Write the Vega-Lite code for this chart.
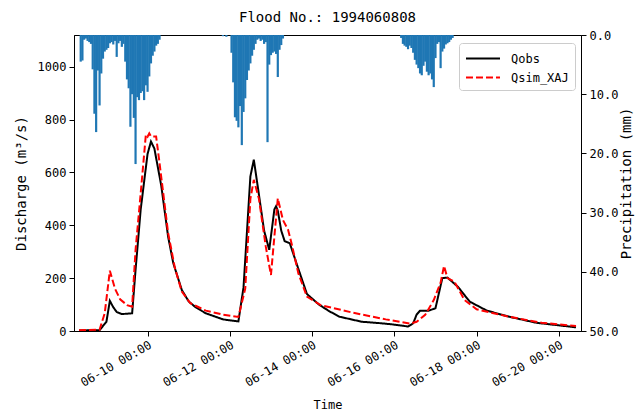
{
  "$schema": "https://vega.github.io/schema/vega-lite/v6.json",
  "autosize": {"type": "none"},
  "padding": {"left": 74, "top": 35, "right": 59, "bottom": 81},
  "width": 507,
  "height": 296,
  "background": "white",
  "title": {"text": "Flood No.: 1994060808", "font": "DejaVu Sans Mono", "fontSize": 14, "fontWeight": "normal", "color": "black", "offset": 4},
  "config": {
    "view": {"stroke": "black", "strokeWidth": 1},
    "axis": {"labelFont": "DejaVu Sans Mono", "labelFontSize": 12, "titleFont": "DejaVu Sans Mono", "titleFontSize": 12, "titleFontWeight": "normal", "labelColor": "black", "titleColor": "black", "domainColor": "black", "tickColor": "black", "grid": false, "tickSize": 5, "labelPadding": 3}
  },
  "datasets": {
    "rain": [
      {"t": "1994-06-08T09:00", "p": 4.5}, {"t": "1994-06-08T10:00", "p": 4.3}, {"t": "1994-06-08T11:00", "p": 0.8}, {"t": "1994-06-08T12:00", "p": 0.6},
      {"t": "1994-06-08T13:00", "p": 1.0}, {"t": "1994-06-08T14:00", "p": 1.2}, {"t": "1994-06-08T15:00", "p": 1.5}, {"t": "1994-06-08T16:00", "p": 5.8},
      {"t": "1994-06-08T17:00", "p": 13.3}, {"t": "1994-06-08T18:00", "p": 16.4}, {"t": "1994-06-08T19:00", "p": 6.0}, {"t": "1994-06-08T20:00", "p": 11.9},
      {"t": "1994-06-08T21:00", "p": 6.5}, {"t": "1994-06-08T22:00", "p": 4.0}, {"t": "1994-06-08T23:00", "p": 2.8}, {"t": "1994-06-09T00:00", "p": 2.5},
      {"t": "1994-06-09T01:00", "p": 2.2}, {"t": "1994-06-09T02:00", "p": 1.4}, {"t": "1994-06-09T03:00", "p": 1.2}, {"t": "1994-06-09T04:00", "p": 1.6},
      {"t": "1994-06-09T05:00", "p": 1.0}, {"t": "1994-06-09T06:00", "p": 3.7}, {"t": "1994-06-09T07:00", "p": 1.4}, {"t": "1994-06-09T08:00", "p": 1.0},
      {"t": "1994-06-09T09:00", "p": 2.0}, {"t": "1994-06-09T10:00", "p": 1.5}, {"t": "1994-06-09T11:00", "p": 4.5}, {"t": "1994-06-09T12:00", "p": 7.5},
      {"t": "1994-06-09T13:00", "p": 9.0}, {"t": "1994-06-09T14:00", "p": 15.5}, {"t": "1994-06-09T15:00", "p": 10.0}, {"t": "1994-06-09T16:00", "p": 14.0},
      {"t": "1994-06-09T17:00", "p": 21.8}, {"t": "1994-06-09T18:00", "p": 10.5}, {"t": "1994-06-09T19:00", "p": 11.0}, {"t": "1994-06-09T20:00", "p": 9.8},
      {"t": "1994-06-09T21:00", "p": 9.5}, {"t": "1994-06-09T22:00", "p": 11.0}, {"t": "1994-06-09T23:00", "p": 8.5}, {"t": "1994-06-10T00:00", "p": 9.6},
      {"t": "1994-06-10T01:00", "p": 7.0}, {"t": "1994-06-10T02:00", "p": 4.8}, {"t": "1994-06-10T03:00", "p": 3.5}, {"t": "1994-06-10T04:00", "p": 2.8},
      {"t": "1994-06-10T05:00", "p": 1.8}, {"t": "1994-06-10T06:00", "p": 1.5}, {"t": "1994-06-10T07:00", "p": 0.8},
      {"t": "1994-06-11T20:00", "p": 0.2}, {"t": "1994-06-11T22:00", "p": 0.3},
      {"t": "1994-06-12T01:00", "p": 3.0}, {"t": "1994-06-12T02:00", "p": 8.0}, {"t": "1994-06-12T03:00", "p": 13.9}, {"t": "1994-06-12T04:00", "p": 14.5},
      {"t": "1994-06-12T05:00", "p": 15.6}, {"t": "1994-06-12T06:00", "p": 12.0}, {"t": "1994-06-12T07:00", "p": 18.6}, {"t": "1994-06-12T08:00", "p": 13.0},
      {"t": "1994-06-12T09:00", "p": 10.7}, {"t": "1994-06-12T10:00", "p": 7.6}, {"t": "1994-06-12T11:00", "p": 6.0}, {"t": "1994-06-12T12:00", "p": 4.8},
      {"t": "1994-06-12T13:00", "p": 3.5}, {"t": "1994-06-12T14:00", "p": 2.5}, {"t": "1994-06-12T15:00", "p": 1.5}, {"t": "1994-06-12T16:00", "p": 0.8},
      {"t": "1994-06-12T17:00", "p": 0.6}, {"t": "1994-06-12T18:00", "p": 1.0}, {"t": "1994-06-12T19:00", "p": 0.8}, {"t": "1994-06-12T20:00", "p": 1.5},
      {"t": "1994-06-12T21:00", "p": 1.2}, {"t": "1994-06-12T22:00", "p": 18.1}, {"t": "1994-06-12T23:00", "p": 5.0}, {"t": "1994-06-13T00:00", "p": 3.4},
      {"t": "1994-06-13T01:00", "p": 3.0}, {"t": "1994-06-13T02:00", "p": 2.8}, {"t": "1994-06-13T03:00", "p": 3.2}, {"t": "1994-06-13T04:00", "p": 7.1},
      {"t": "1994-06-13T05:00", "p": 2.5}, {"t": "1994-06-13T06:00", "p": 1.7}, {"t": "1994-06-13T07:00", "p": 0.6},
      {"t": "1994-06-16T04:00", "p": 0.5}, {"t": "1994-06-16T05:00", "p": 1.5}, {"t": "1994-06-16T06:00", "p": 1.8}, {"t": "1994-06-16T07:00", "p": 2.0},
      {"t": "1994-06-16T08:00", "p": 2.4}, {"t": "1994-06-16T09:00", "p": 1.8}, {"t": "1994-06-16T10:00", "p": 2.2}, {"t": "1994-06-16T11:00", "p": 3.0},
      {"t": "1994-06-16T12:00", "p": 4.2}, {"t": "1994-06-16T13:00", "p": 5.0}, {"t": "1994-06-16T14:00", "p": 5.6}, {"t": "1994-06-16T15:00", "p": 6.5},
      {"t": "1994-06-16T16:00", "p": 6.8}, {"t": "1994-06-16T17:00", "p": 5.2}, {"t": "1994-06-16T18:00", "p": 4.5}, {"t": "1994-06-16T19:00", "p": 6.2},
      {"t": "1994-06-16T20:00", "p": 6.8}, {"t": "1994-06-16T21:00", "p": 6.5}, {"t": "1994-06-16T22:00", "p": 7.5}, {"t": "1994-06-16T23:00", "p": 8.8},
      {"t": "1994-06-17T00:00", "p": 3.9}, {"t": "1994-06-17T01:00", "p": 1.5}, {"t": "1994-06-17T02:00", "p": 1.2}, {"t": "1994-06-17T03:00", "p": 5.6},
      {"t": "1994-06-17T04:00", "p": 2.8}, {"t": "1994-06-17T05:00", "p": 2.3}, {"t": "1994-06-17T06:00", "p": 1.6}, {"t": "1994-06-17T07:00", "p": 1.4},
      {"t": "1994-06-17T08:00", "p": 1.2}, {"t": "1994-06-17T09:00", "p": 0.8}, {"t": "1994-06-17T10:00", "p": 0.5}
    ],
    "flow": [
      {"t": "1994-06-08T08:00", "s": "Qobs", "q": 2}, {"t": "1994-06-08T20:00", "s": "Qobs", "q": 3}, {"t": "1994-06-09T00:00", "s": "Qobs", "q": 35},
      {"t": "1994-06-09T02:00", "s": "Qobs", "q": 114}, {"t": "1994-06-09T04:00", "s": "Qobs", "q": 90}, {"t": "1994-06-09T06:00", "s": "Qobs", "q": 72},
      {"t": "1994-06-09T09:00", "s": "Qobs", "q": 64}, {"t": "1994-06-09T15:00", "s": "Qobs", "q": 67}, {"t": "1994-06-09T17:00", "s": "Qobs", "q": 231},
      {"t": "1994-06-09T20:00", "s": "Qobs", "q": 460}, {"t": "1994-06-10T00:00", "s": "Qobs", "q": 670}, {"t": "1994-06-10T02:00", "s": "Qobs", "q": 717},
      {"t": "1994-06-10T04:00", "s": "Qobs", "q": 690}, {"t": "1994-06-10T08:00", "s": "Qobs", "q": 550}, {"t": "1994-06-10T12:00", "s": "Qobs", "q": 357},
      {"t": "1994-06-10T15:00", "s": "Qobs", "q": 257}, {"t": "1994-06-10T20:00", "s": "Qobs", "q": 155}, {"t": "1994-06-11T00:00", "s": "Qobs", "q": 112},
      {"t": "1994-06-11T04:00", "s": "Qobs", "q": 90}, {"t": "1994-06-11T10:00", "s": "Qobs", "q": 67}, {"t": "1994-06-11T20:00", "s": "Qobs", "q": 44},
      {"t": "1994-06-12T05:00", "s": "Qobs", "q": 36}, {"t": "1994-06-12T08:00", "s": "Qobs", "q": 165}, {"t": "1994-06-12T12:00", "s": "Qobs", "q": 585},
      {"t": "1994-06-12T14:00", "s": "Qobs", "q": 648}, {"t": "1994-06-12T16:00", "s": "Qobs", "q": 560}, {"t": "1994-06-12T20:00", "s": "Qobs", "q": 380},
      {"t": "1994-06-12T23:00", "s": "Qobs", "q": 307}, {"t": "1994-06-13T02:00", "s": "Qobs", "q": 460}, {"t": "1994-06-13T03:00", "s": "Qobs", "q": 472},
      {"t": "1994-06-13T04:00", "s": "Qobs", "q": 455}, {"t": "1994-06-13T06:00", "s": "Qobs", "q": 380}, {"t": "1994-06-13T08:00", "s": "Qobs", "q": 340},
      {"t": "1994-06-13T11:00", "s": "Qobs", "q": 332}, {"t": "1994-06-13T16:00", "s": "Qobs", "q": 235}, {"t": "1994-06-13T21:00", "s": "Qobs", "q": 140},
      {"t": "1994-06-14T04:00", "s": "Qobs", "q": 100}, {"t": "1994-06-14T10:00", "s": "Qobs", "q": 75}, {"t": "1994-06-14T16:00", "s": "Qobs", "q": 54},
      {"t": "1994-06-15T05:00", "s": "Qobs", "q": 35}, {"t": "1994-06-15T15:00", "s": "Qobs", "q": 30}, {"t": "1994-06-15T23:00", "s": "Qobs", "q": 25},
      {"t": "1994-06-16T08:00", "s": "Qobs", "q": 17}, {"t": "1994-06-16T11:00", "s": "Qobs", "q": 29}, {"t": "1994-06-16T13:00", "s": "Qobs", "q": 62},
      {"t": "1994-06-16T15:00", "s": "Qobs", "q": 77}, {"t": "1994-06-16T20:00", "s": "Qobs", "q": 77}, {"t": "1994-06-17T00:00", "s": "Qobs", "q": 86},
      {"t": "1994-06-17T04:00", "s": "Qobs", "q": 200}, {"t": "1994-06-17T07:00", "s": "Qobs", "q": 202}, {"t": "1994-06-17T13:00", "s": "Qobs", "q": 168},
      {"t": "1994-06-17T20:00", "s": "Qobs", "q": 111}, {"t": "1994-06-18T06:00", "s": "Qobs", "q": 77}, {"t": "1994-06-18T19:00", "s": "Qobs", "q": 54},
      {"t": "1994-06-19T11:00", "s": "Qobs", "q": 31}, {"t": "1994-06-20T10:00", "s": "Qobs", "q": 14},
      {"t": "1994-06-08T08:00", "s": "Qsim_XAJ", "q": 3}, {"t": "1994-06-08T20:00", "s": "Qsim_XAJ", "q": 5}, {"t": "1994-06-08T23:00", "s": "Qsim_XAJ", "q": 67},
      {"t": "1994-06-09T02:00", "s": "Qsim_XAJ", "q": 228}, {"t": "1994-06-09T05:00", "s": "Qsim_XAJ", "q": 160}, {"t": "1994-06-09T08:00", "s": "Qsim_XAJ", "q": 120},
      {"t": "1994-06-09T12:00", "s": "Qsim_XAJ", "q": 98}, {"t": "1994-06-09T15:00", "s": "Qsim_XAJ", "q": 92}, {"t": "1994-06-09T17:00", "s": "Qsim_XAJ", "q": 307},
      {"t": "1994-06-09T20:00", "s": "Qsim_XAJ", "q": 521}, {"t": "1994-06-09T23:00", "s": "Qsim_XAJ", "q": 742}, {"t": "1994-06-10T00:00", "s": "Qsim_XAJ", "q": 735},
      {"t": "1994-06-10T01:00", "s": "Qsim_XAJ", "q": 748}, {"t": "1994-06-10T02:00", "s": "Qsim_XAJ", "q": 736}, {"t": "1994-06-10T05:00", "s": "Qsim_XAJ", "q": 736},
      {"t": "1994-06-10T07:00", "s": "Qsim_XAJ", "q": 635}, {"t": "1994-06-10T12:00", "s": "Qsim_XAJ", "q": 371}, {"t": "1994-06-10T16:00", "s": "Qsim_XAJ", "q": 237},
      {"t": "1994-06-10T20:00", "s": "Qsim_XAJ", "q": 149}, {"t": "1994-06-11T01:00", "s": "Qsim_XAJ", "q": 105}, {"t": "1994-06-11T10:00", "s": "Qsim_XAJ", "q": 77},
      {"t": "1994-06-11T20:00", "s": "Qsim_XAJ", "q": 62}, {"t": "1994-06-12T05:00", "s": "Qsim_XAJ", "q": 53}, {"t": "1994-06-12T09:00", "s": "Qsim_XAJ", "q": 160},
      {"t": "1994-06-12T12:00", "s": "Qsim_XAJ", "q": 500}, {"t": "1994-06-12T14:00", "s": "Qsim_XAJ", "q": 572}, {"t": "1994-06-12T17:00", "s": "Qsim_XAJ", "q": 500},
      {"t": "1994-06-12T21:00", "s": "Qsim_XAJ", "q": 319}, {"t": "1994-06-13T00:00", "s": "Qsim_XAJ", "q": 212}, {"t": "1994-06-13T04:00", "s": "Qsim_XAJ", "q": 502},
      {"t": "1994-06-13T07:00", "s": "Qsim_XAJ", "q": 420}, {"t": "1994-06-13T09:00", "s": "Qsim_XAJ", "q": 395}, {"t": "1994-06-13T10:00", "s": "Qsim_XAJ", "q": 383},
      {"t": "1994-06-13T12:00", "s": "Qsim_XAJ", "q": 332}, {"t": "1994-06-13T16:00", "s": "Qsim_XAJ", "q": 218}, {"t": "1994-06-13T21:00", "s": "Qsim_XAJ", "q": 130},
      {"t": "1994-06-14T05:00", "s": "Qsim_XAJ", "q": 98}, {"t": "1994-06-15T00:00", "s": "Qsim_XAJ", "q": 69}, {"t": "1994-06-15T19:00", "s": "Qsim_XAJ", "q": 44},
      {"t": "1994-06-16T09:00", "s": "Qsim_XAJ", "q": 28}, {"t": "1994-06-16T13:00", "s": "Qsim_XAJ", "q": 35}, {"t": "1994-06-16T18:00", "s": "Qsim_XAJ", "q": 61},
      {"t": "1994-06-16T23:00", "s": "Qsim_XAJ", "q": 117}, {"t": "1994-06-17T03:00", "s": "Qsim_XAJ", "q": 183}, {"t": "1994-06-17T05:00", "s": "Qsim_XAJ", "q": 246},
      {"t": "1994-06-17T07:00", "s": "Qsim_XAJ", "q": 200}, {"t": "1994-06-17T11:00", "s": "Qsim_XAJ", "q": 187}, {"t": "1994-06-17T17:00", "s": "Qsim_XAJ", "q": 117},
      {"t": "1994-06-18T00:00", "s": "Qsim_XAJ", "q": 82}, {"t": "1994-06-18T19:00", "s": "Qsim_XAJ", "q": 54}, {"t": "1994-06-19T14:00", "s": "Qsim_XAJ", "q": 31},
      {"t": "1994-06-20T10:00", "s": "Qsim_XAJ", "q": 19}
    ]
  },
  "layer": [
    {
      "data": {"name": "flow"},
      "mark": {"type": "line", "strokeWidth": 2, "clip": true},
      "encoding": {
        "x": {
          "field": "t", "type": "temporal",
          "scale": {"domain": [{"year": 1994, "month": 6, "date": 8, "hours": 8}, {"year": 1994, "month": 6, "date": 20, "hours": 10}], "nice": false},
          "axis": {
            "title": "Time", "format": "%m-%d %H:%M", "labelAngle": -30, "labelAlign": "right", "labelBaseline": "top", "titlePadding": 11,
            "values": [{"year": 1994, "month": 6, "date": 10}, {"year": 1994, "month": 6, "date": 12}, {"year": 1994, "month": 6, "date": 14}, {"year": 1994, "month": 6, "date": 16}, {"year": 1994, "month": 6, "date": 18}, {"year": 1994, "month": 6, "date": 20}]
          }
        },
        "y": {
          "field": "q", "type": "quantitative",
          "scale": {"domain": [0, 1120], "nice": false},
          "axis": {"title": "Discharge (m³/s)", "values": [0, 200, 400, 600, 800, 1000], "format": "d", "titlePadding": 9, "titleFontSize": 14}
        },
        "color": {
          "field": "s", "type": "nominal",
          "scale": {"domain": ["Qobs", "Qsim_XAJ"], "range": ["#000000", "#ff0000"]},
          "legend": {"title": null, "orient": "none", "legendX": 385, "legendY": 8, "fillColor": "white", "strokeColor": "#cccccc", "cornerRadius": 3, "padding": 6, "symbolType": "M-1,0H3", "symbolSize": 289, "symbolStrokeWidth": 2, "symbolFillColor": "transparent", "labelOffset": 27, "labelFont": "DejaVu Sans Mono", "labelFontSize": 12, "labelColor": "black", "rowPadding": 3}
        },
        "strokeDash": {
          "field": "s", "type": "nominal",
          "scale": {"domain": ["Qobs", "Qsim_XAJ"], "range": [[1, 0], [7, 3]]},
          "legend": {"title": null, "orient": "none", "legendX": 385, "legendY": 8, "fillColor": "white", "strokeColor": "#cccccc", "cornerRadius": 3, "padding": 6, "symbolType": "M-1,0H3", "symbolSize": 289, "symbolStrokeWidth": 2, "symbolFillColor": "transparent", "labelOffset": 27, "labelFont": "DejaVu Sans Mono", "labelFontSize": 12, "labelColor": "black", "rowPadding": 3}
        }
      }
    },
    {
      "data": {"name": "rain"},
      "mark": {"type": "bar", "size": 2.2, "color": "#1f77b4", "clip": true},
      "encoding": {
        "x": {"field": "t", "type": "temporal"},
        "y": {
          "field": "p", "type": "quantitative",
          "scale": {"domain": [0, 50], "reverse": true, "nice": false},
          "axis": {"orient": "right", "title": "Precipitation (mm)", "values": [0, 10, 20, 30, 40, 50], "format": ".1f", "titlePadding": 16, "titleAngle": 270, "titleFontSize": 14}
        }
      }
    }
  ],
  "resolve": {"scale": {"y": "independent"}}
}
